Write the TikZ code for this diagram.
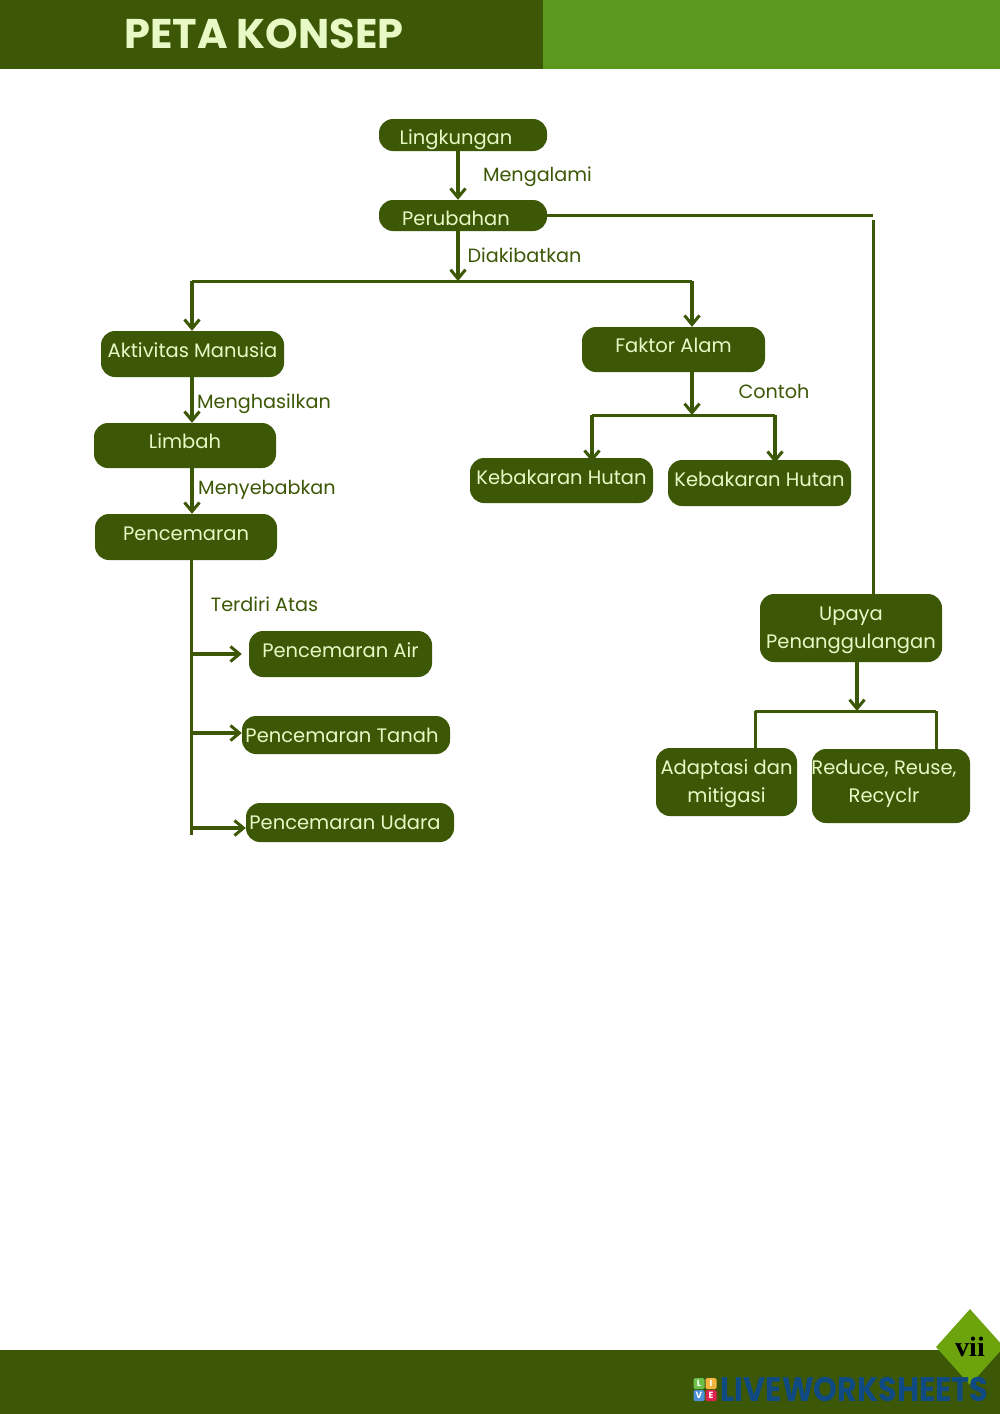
\documentclass[tikz,border=0pt]{standalone}
\usepackage{graphicx}
\usepackage{fontspec}
\setmainfont{Poppins}
\newfontfamily\pagefont{Liberation Serif}
\usetikzlibrary{arrows.meta,shapes.geometric}
\definecolor{darkgreen}{HTML}{3C5705}
\definecolor{midgreen}{HTML}{5A981E}
\definecolor{leafgreen}{HTML}{6DA30C}
\definecolor{palegreen}{HTML}{E8F9C6}
\definecolor{logoblue}{HTML}{0F4A82}
\definecolor{tilegreen}{HTML}{6CBF4B}
\definecolor{tileyellow}{HTML}{F5B53F}
\definecolor{tileblue}{HTML}{4A8FD8}
\definecolor{tilered}{HTML}{E0204F}
\newcommand{\moved}[3]{\hspace*{#1pt}\raisebox{#2pt}[0pt][0pt]{#3}}
\begin{document}
\begin{tikzpicture}
	[x=1pt,y=-1pt,
	box/.style 2 args={draw=none,fill=darkgreen,text=palegreen,rounded corners=14pt,inner sep=0pt,align=center,minimum width=#1pt,minimum height=#2pt,font=\fontsize{19.5}{28}\selectfont},
	note/.style={text=darkgreen,inner sep=0pt,font=\fontsize{19.2}{24}\selectfont},
	tile/.style={fill=#1,text=white,rounded corners=1.5pt,inner sep=0pt,minimum size=11pt,font=\fontsize{9}{9}\bfseries\selectfont},
	link/.style={draw=darkgreen,line width=3pt},
	arrow/.style={draw=darkgreen,line width=3.5pt,-{Straight Barb[length=9pt,width=15pt,line width=3pt]}}]
	\useasboundingbox (0,0) rectangle (1000,1414);
	\fill[white] (0,0) rectangle (1000,1414);
	\fill[darkgreen] (0,0) rectangle (543,69);
	\fill[midgreen] (543,0) rectangle (1000,69);
	\fill[darkgreen] (0,1350) rectangle (1000,1414);
	\node[text=palegreen,inner sep=0pt,font=\fontsize{41.5}{41.5}\bfseries\selectfont] (title) at (264,34) {PETA KONSEP};

	\node[box={168}{32}] (lingkungan) at (463,135) {\moved{-14}{-9}{Lingkungan}};
	\node[box={168}{31}] (perubahan) at (463,215.5) {\moved{-14}{-10}{Perubahan}};
	\node[box={183}{46}] (aktivitas) at (192.5,354) {\moved{0}{-3}{Aktivitas Manusia}};
	\node[box={183}{45}] (faktor) at (673.5,349.5) {\moved{0}{-3}{Faktor Alam}};
	\node[box={182}{45}] (limbah) at (185,445.5) {\moved{0}{-2.5}{Limbah}};
	\node[box={182}{46}] (pencemaran) at (186,537) {\moved{0}{-3}{Pencemaran}};
	\node[box={183}{45}] (hutanA) at (561.5,480.5) {\moved{0}{-3.5}{Kebakaran Hutan}};
	\node[box={183}{46}] (hutanB) at (759.5,483) {\moved{0}{-3}{Kebakaran Hutan}};
	\node[box={183}{46}] (air) at (340.5,654) {\moved{0}{-3}{Pencemaran Air}};
	\node[box={208}{38}] (tanah) at (346,735) {\moved{-8}{-7}{Pencemaran Tanah}};
	\node[box={208}{39}] (udara) at (350,822.5) {\moved{-10}{-6.5}{Pencemaran Udara}};
	\node[box={182}{68}] (upaya) at (851,628) {\moved{0}{-6}{Upaya}\\\moved{0}{-6}{Penanggulangan}};
	\node[box={141}{68}] (adaptasi) at (726.5,782) {\moved{0}{-6}{Adaptasi dan}\\\moved{0}{-6}{mitigasi}};
	\node[box={158}{74}] (reduce) at (891,786) {\moved{-14}{-2}{Reduce, Reuse,}\\\moved{-14}{-2}{Recyclr}};

	\node[note] (mengalami) at (537.5,176.5) {Mengalami};
	\node[note] (diakibatkan) at (524.5,255) {Diakibatkan};
	\node[note] (menghasilkan) at (264,404) {Menghasilkan};
	\node[note] (menyebabkan) at (267,490) {Menyebabkan};
	\node[note] (contoh) at (774,391) {Contoh};
	\node[note] (terdiri) at (264.5,604) {Terdiri Atas};

	\coordinate (barTop) at (458,281);
	\coordinate (barTopL) at (192,281);
	\coordinate (barTopR) at (692,281);
	\coordinate (barAlam) at (692,415);
	\coordinate (barAlamL) at (592,415);
	\coordinate (barAlamR) at (775,415);
	\coordinate (barUpaya) at (857,711);
	\coordinate (barUpayaL) at (755,711);
	\coordinate (barUpayaR) at (936,711);
	\coordinate (trunkEnd) at (191,835);
	\coordinate (trunkAir) at (191,654);
	\coordinate (trunkTanah) at (191,733);
	\coordinate (trunkUdara) at (191,828);
	\coordinate (turn) at (873,215.5);
	\coordinate (turnB) at (873,220);

	\draw[arrow] ([xshift=-5pt]lingkungan.south) -- ([xshift=-5pt]perubahan.north);
	\draw[arrow] ([xshift=-5pt]perubahan.south) -- (barTop);
	\draw[link] (barTopL) -- (barTopR);
	\draw[arrow] (barTopL) -- (barTopL |- aktivitas.north);
	\draw[arrow] (barTopR) -- (barTopR |- faktor.north);
	\draw[arrow] (barAlam |- faktor.south) -- (barAlam);
	\draw[link] (barAlamL) -- (barAlamR);
	\draw[arrow] (barAlamL) -- ([yshift=-4pt]barAlamL |- hutanA.north);
	\draw[arrow] (barAlamR) -- ([yshift=-3pt]barAlamR |- hutanB.north);
	\draw[arrow] (barTopL |- aktivitas.south) -- (barTopL |- limbah.north);
	\draw[arrow] (barTopL |- limbah.south) -- (barTopL |- pencemaran.north);
	\draw[link] (trunkEnd |- pencemaran.south) -- (trunkEnd);
	\draw[arrow] (trunkAir) -- ([xshift=-7pt]air.west |- trunkAir);
	\draw[arrow] (trunkTanah) -- (tanah.west |- trunkTanah);
	\draw[arrow] (trunkUdara) -- (udara.west |- trunkUdara);
	\draw[link] (perubahan.east) -- (turn);
	\draw[link] (turnB) -- (turnB |- upaya.north);
	\draw[arrow] (barUpaya |- upaya.south) -- (barUpaya);
	\draw[link] (barUpayaL) -- (barUpayaR);
	\draw[link] (barUpayaL) -- (barUpayaL |- adaptasi.north);
	\draw[link] (barUpayaR) -- (barUpayaR |- reduce.north);

	\node[diamond,fill=leafgreen,inner sep=0pt,minimum width=68pt,minimum height=76pt,font=\pagefont\fontsize{28}{28}\bfseries\selectfont] (page) at (970,1347) {vii};
	\node[text=logoblue,anchor=west,inner sep=0pt,font=\fontsize{34}{34}\bfseries\selectfont] (logo) at (720,1389) {\scalebox{.89}[1]{LIVEWORKSHEETS}};
	\node[tile=tilegreen] (tileL) at (699,1383.5) {L};
	\node[tile=tileyellow] (tileI) at (711,1383.5) {I};
	\node[tile=tileblue] (tileV) at (699,1395.5) {V};
	\node[tile=tilered] (tileE) at (711,1395.5) {E};
\end{tikzpicture}
\end{document}
